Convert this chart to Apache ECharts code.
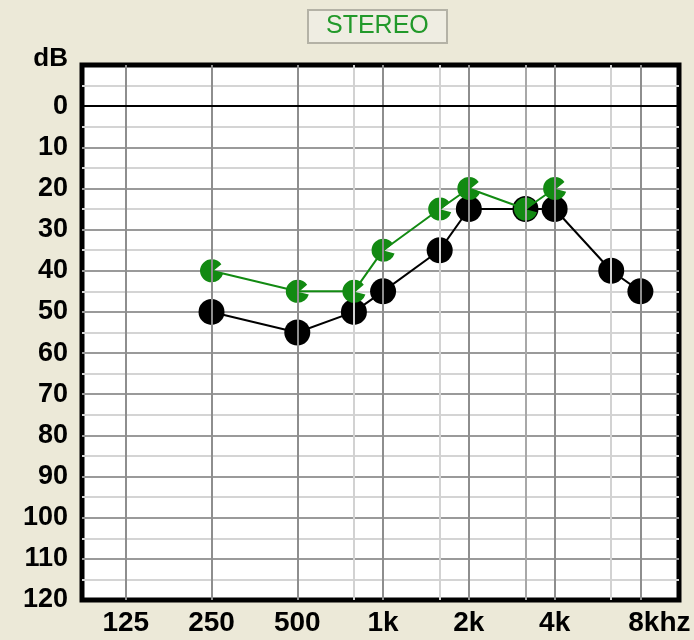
<!DOCTYPE html>
<html>
<head>
<meta charset="utf-8">
<script src="https://cdn.jsdelivr.net/npm/echarts@6/dist/echarts.min.js"></script>
<style>
  html, body { margin: 0; padding: 0; background: #ece9d8; }
  #main { width: 694px; height: 640px; }
</style>
</head>
<body>
<div id="main"></div>
<script>
// audiogram frequencies and their place on the octave scale
const freqLabels = ['125', '250', '500', '750', '1k', '1.5k', '2k', '3k', '4k', '6k', '8k']
const freqPos = [0, 1, 2, 2.66, 3, 3.66, 4, 4.66, 5, 5.66, 6]
const tickLabels = ['125', '250', '500', '1k', '2k', '4k', '8khz']

// black (circles)
const blackFreqs = ['250', '500', '750', '1k', '1.5k', '2k', '3k', '4k', '6k', '8k']
const blackDb = [50, 55, 50, 45, 35, 25, 25, 25, 40, 45]
// green
const greenFreqs = ['250', '500', '750', '1k', '1.5k', '2k', '3k', '4k']
const greenDb = [40, 45, 45, 35, 25, 20, 25, 20]

const pos = f => freqPos[freqLabels.indexOf(f)]
const lightFreqs = ['750', '1.5k', '6k']

const chart = echarts.init(document.getElementById('main'))

const vLines = freqLabels.map(f => ({
  xAxis: pos(f),
  lineStyle: {
    color: lightFreqs.indexOf(f) >= 0 ? '#d2d2d2' : (f === '3k' ? '#a8a8a8' : '#8e8e8e'),
    width: 2,
    type: 'solid'
  }
}))

// green marker, a filled circle with a notch on the right
const notchSymbol = 'path://M10,0 A10,10 0 1 0 19.6,12.8 L11,10.5 L18.2,4.3 A10,10 0 0 0 10,0 Z'

chart.setOption({
  backgroundColor: '#ece9d8',
  animation: false,
  title: {
    text: 'STEREO',
    left: 308,
    top: 10,
    padding: [4, 18, 4, 18],
    borderColor: '#b4b2a6',
    borderWidth: 2,
    backgroundColor: '#efede2',
    textStyle: {
      fontFamily: 'Liberation Sans',
      fontWeight: 'normal',
      fontSize: 25,
      color: '#22992a'
    }
  },
  grid: {
    left: 82,
    right: 15,
    top: 65,
    bottom: 40,
    show: true,
    backgroundColor: '#fff',
    borderColor: '#000',
    borderWidth: 5
  },
  xAxis: {
    type: 'value',
    min: -0.51,
    max: 6.45,
    axisLine: { show: false },
    axisTick: { show: false },
    splitLine: { show: false },
    axisLabel: {
      customValues: [0, 1, 2, 3, 4, 5, 6],
      margin: 9,
      fontFamily: 'Liberation Sans',
      fontWeight: 'bold',
      fontSize: 28,
      color: '#000',
      formatter: function(v) {
        const t = tickLabels[Math.round(v)]
        return t === '8khz' ? '{k8|' + t + '}' : t
      },
      rich: {
        k8: {
          fontFamily: 'Liberation Sans',
          fontWeight: 'bold',
          fontSize: 28,
          color: '#000',
          padding: [0, 0, 0, 38]
        }
      }
    }
  },
  yAxis: {
    type: 'value',
    inverse: true,
    min: -10,
    max: 120,
    interval: 10,
    axisLine: { show: false },
    axisTick: { show: false },
    minorTick: { show: false, splitNumber: 2 },
    splitLine: {
      show: true,
      showMinLine: false,
      showMaxLine: false,
      lineStyle: { color: '#9a9a9a', width: 2 }
    },
    minorSplitLine: {
      show: true,
      lineStyle: { color: '#d4d4d4', width: 2 }
    },
    axisLabel: {
      margin: 14,
      fontFamily: 'Liberation Sans',
      fontWeight: 'bold',
      fontSize: 27,
      color: '#000',
      formatter: function(v) {
        return v === -10 ? '{db|dB}' : String(v)
      },
      rich: {
        db: {
          fontFamily: 'Liberation Sans',
          fontWeight: 'bold',
          fontSize: 26,
          color: '#000',
          padding: [0, 0, 12, 0]
        }
      }
    }
  },
  series: [
    {
      // grid lines of the audiogram
      type: 'line',
      data: [],
      z: 1,
      silent: true,
      markLine: {
        silent: true,
        symbol: 'none',
        label: { show: false },
        data: vLines.concat([{ yAxis: 0, lineStyle: { color: '#000', width: 2, type: 'solid' } }])
      }
    },
    {
      name: 'black',
      type: 'line',
      z: 3,
      data: blackFreqs.map((f, i) => [pos(f), blackDb[i]]),
      symbol: 'circle',
      symbolSize: 26,
      itemStyle: { color: '#000' },
      lineStyle: { color: '#000', width: 2 }
    },
    {
      name: 'green',
      type: 'line',
      z: 4,
      data: greenFreqs.map((f, i) => [pos(f), greenDb[i]]),
      symbol: notchSymbol,
      symbolSize: 23,
      itemStyle: { color: '#128a12' },
      lineStyle: { color: '#128a12', width: 2 }
    }
  ]
})
</script>
</body>
</html>
